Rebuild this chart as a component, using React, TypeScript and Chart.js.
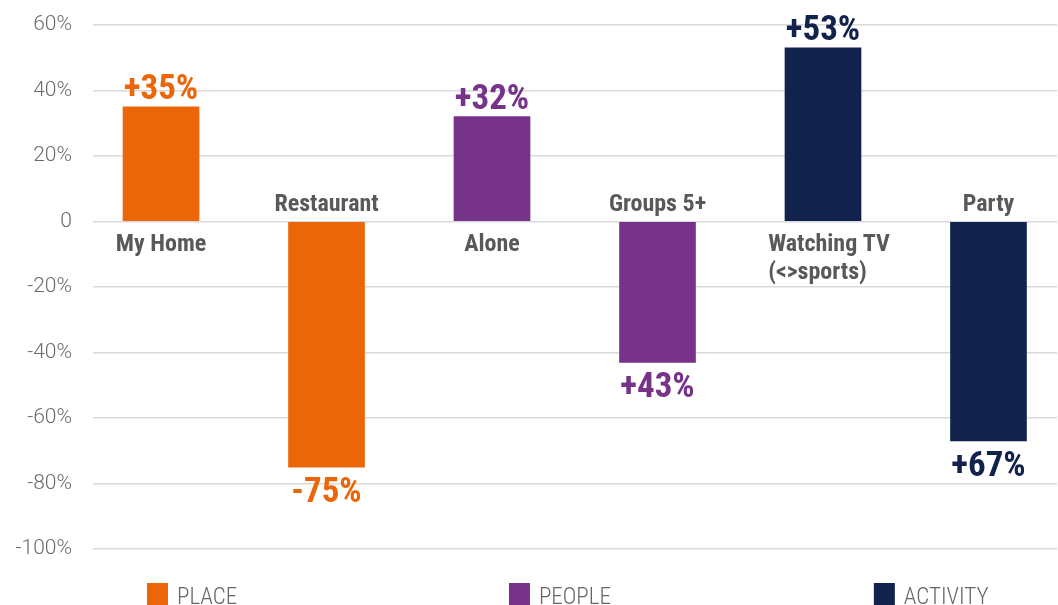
import React, { useEffect, useRef } from "react";
import { Chart, registerables } from "chart.js";

Chart.register(...registerables);

const categories = ["My Home", "Restaurant", "Alone", "Groups 5+", "Watching TV\n(<>sports)", "Party"];
const values = [35, -75, 32, -43, 53, -67];
const valueLabels = ["+35%", "-75%", "+32%", "+43%", "+53%", "+67%"];
const groupOf = ["PLACE", "PLACE", "PEOPLE", "PEOPLE", "ACTIVITY", "ACTIVITY"];
const groupNames = ["PLACE", "PEOPLE", "ACTIVITY"];
const groupColors = ["#EB6608", "#77328A", "#11224D"];
const yMin = -100;
const yMax = 60;
const yStep = 20;

const FONT = "'Roboto Condensed', 'Liberation Sans Narrow', 'Arial Narrow', sans-serif";
const TICK_FONT = "Roboto, 'Liberation Sans', sans-serif";

const labelPlugin = {
  id: "barLabels",
  afterDatasetsDraw(chart: any) {
    const ctx = chart.ctx;
    const yScale = chart.scales.y;
    const zeroY = yScale.getPixelForValue(0);
    ctx.save();
    chart.data.datasets.forEach((ds: any, di: number) => {
      const meta = chart.getDatasetMeta(di);
      meta.data.forEach((bar: any, j: number) => {
        const idx = ds.data[j].x;
        const v = values[idx];
        const x = bar.x;
        ctx.fillStyle = ds.backgroundColor;
        ctx.font = `bold 35px ${FONT}`;
        ctx.textAlign = "center";
        ctx.textBaseline = "alphabetic";
        if (v >= 0) {
          ctx.fillText(valueLabels[idx], x, bar.y - 8);
        } else {
          ctx.fillText(valueLabels[idx], x, bar.y + 35);
        }
        ctx.fillStyle = "#595959";
        ctx.font = `bold 24px ${FONT}`;
        const lines = categories[idx].split("\n");
        const widths = lines.map((l) => ctx.measureText(l).width);
        const maxW = Math.max(...widths);
        const multi = lines.length > 1;
        ctx.textAlign = multi ? "left" : "center";
        const lx = multi ? x - maxW / 2 + 6 : x;
        if (v >= 0) {
          lines.forEach((l, k) => ctx.fillText(l, lx, zeroY + 29 + k * 28));
        } else {
          lines.forEach((l, k) => ctx.fillText(l, lx, zeroY - 11 - (lines.length - 1 - k) * 28));
        }
      });
    });
    ctx.restore();
  },
};

const legendFractions = [0.056, 0.4315, 0.81];

const legendPlugin = {
  id: "customLegend",
  afterDraw(chart: any) {
    const ctx = chart.ctx;
    const area = chart.chartArea;
    ctx.save();
    groupNames.forEach((name, i) => {
      const x = area.left + legendFractions[i] * (area.right - area.left);
      const y = 583;
      ctx.fillStyle = groupColors[i];
      ctx.fillRect(x, y, 21, 22);
      ctx.fillStyle = "#666666";
      ctx.font = `300 23px ${FONT}`;
      ctx.textAlign = "left";
      ctx.textBaseline = "alphabetic";
      ctx.fillText(name, x + 30, y + 21);
    });
    ctx.restore();
  },
};

export default function App() {
  const ref = useRef<HTMLCanvasElement | null>(null);
  useEffect(() => {
    document.body.style.margin = "0";
    const datasets = groupNames.map((g, gi) => ({
      label: g,
      data: categories
        .map((_, i) => i)
        .filter((i) => groupOf[i] === g)
        .map((i) => ({ x: i, y: values[i] })),
      backgroundColor: groupColors[gi],
      borderWidth: 0,
      barThickness: 76,
      grouped: false,
    }));
    const chart = new Chart(ref.current as HTMLCanvasElement, {
      type: "bar",
      data: { datasets },
      options: {
        animation: false,
        responsive: false,
        maintainAspectRatio: false,
        layout: { padding: { top: 25, bottom: 56, left: 0, right: 1 } },
        plugins: { legend: { display: false }, tooltip: { enabled: false } },
        scales: {
          x: { type: "linear", display: false, offset: false, min: -0.411, max: 5.414 },
          y: {
            min: yMin,
            max: yMax,
            afterFit: (scale: any) => {
              scale.width = 93;
              scale.paddingTop = 0;
              scale.paddingBottom = 0;
            },
            border: { display: false },
            grid: { color: "#d9d9d9", lineWidth: 1.5, drawTicks: false },
            ticks: {
              stepSize: yStep,
              padding: 21,
              color: "#6b6b6b",
              font: { family: TICK_FONT, size: 21, weight: "300" },
              callback: (v: any) => (v === 0 ? "0" : `${v}%`),
            },
          },
        },
      },
      plugins: [labelPlugin, legendPlugin],
    });
    return () => chart.destroy();
  }, []);
  return (
    <div style={{ position: "absolute", left: 0, top: 0, width: 1058, height: 605 }}>
      <canvas ref={ref} width={1058} height={605} style={{ width: 1058, height: 605 }} />
    </div>
  );
}
